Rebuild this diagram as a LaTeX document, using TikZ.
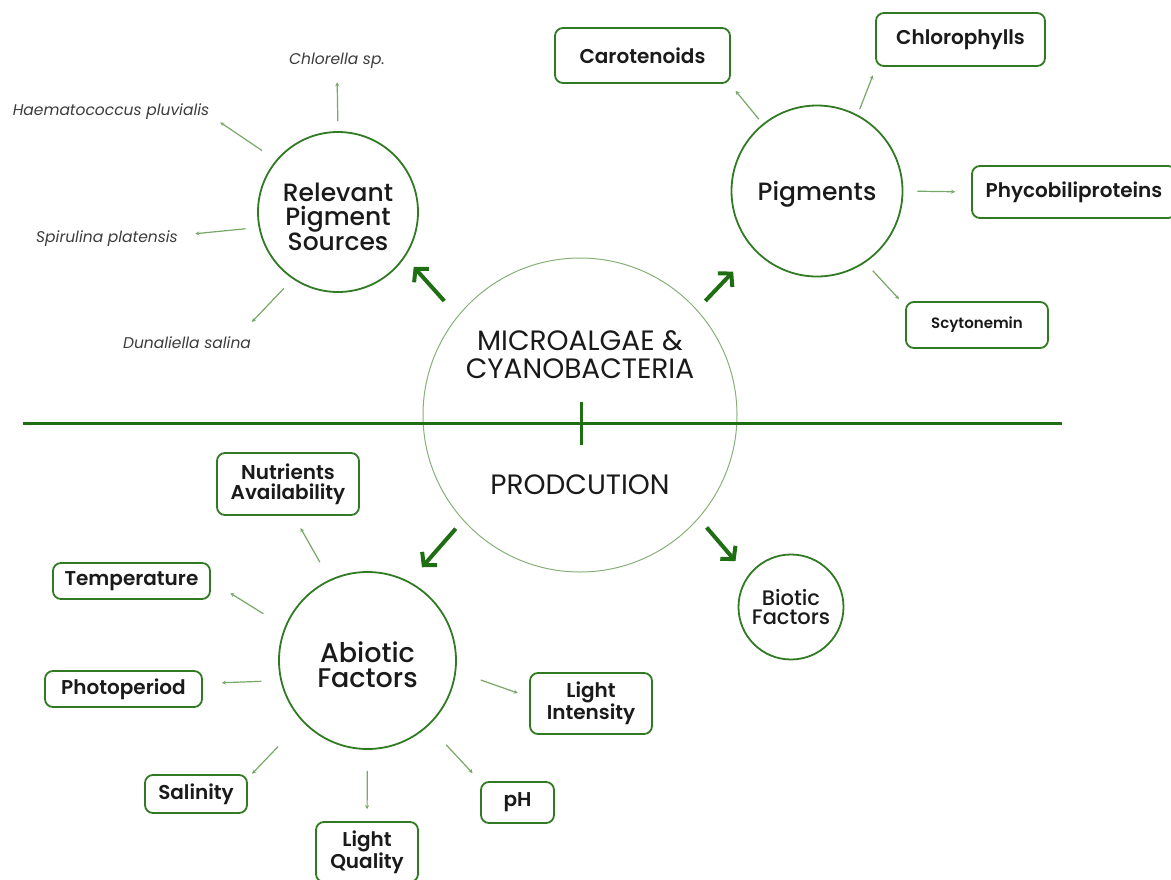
\documentclass[tikz,border=0pt]{standalone}
\usepackage{fontspec}
\setmainfont{Poppins}
\newfontfamily\ringfont{Poppins Medium}
\newfontfamily\tagfont{Poppins SemiBold}
\usetikzlibrary{arrows.meta}
\definecolor{darkgreen}{HTML}{1F6E14}
\definecolor{ringgreen}{HTML}{2F7A22}
\definecolor{palegreen}{HTML}{86B077}
\definecolor{thingreen}{HTML}{78A868}
\definecolor{ink}{HTML}{1A1A1A}
\tikzset{
  ring/.style={draw=ringgreen, line width=1.8pt, circle, align=center, text=ink, inner sep=0pt},
  tag/.style={draw=ringgreen, line width=1.8pt, rounded corners=8pt, align=center, text=ink, inner sep=0pt, font=\tagfont\fontsize{20}{20}\selectfont},
  species/.style={text=ink!85, font=\itshape\fontsize{15.5}{15.5}\selectfont},
  bigarrow/.style={darkgreen, line width=4pt, -{Straight Barb[length=9pt,width=20pt]}},
  smallarrow/.style={thingreen, line width=1.2pt, -{Stealth[length=4pt,width=4pt]}}
}
\begin{document}
\begin{tikzpicture}[x=1pt,y=-1pt]
        \useasboundingbox (0,0) rectangle (1171,879);
        \draw (580,415) node (M) [circle, draw=palegreen, line width=1pt, minimum size=314pt] {};
        \draw (580,355) node (MT) [text=ink, align=center, font=\fontsize{28}{28}\selectfont] {MICROALGAE \&\\CYANOBACTERIA};
        \draw (580,485) node (MB) [text=ink, font=\fontsize{28}{28}\selectfont] {PRODCUTION};
        \draw[darkgreen, line width=3pt] (23,423) -- (1062,423);
        \draw[darkgreen, line width=3pt] (581,402) -- (581,445);

        \draw (338,212) node (S) [ring, minimum size=160pt, text height=77pt, text depth=0pt, font=\ringfont\fontsize{25}{23.5}\selectfont] {Relevant\\Pigment\\Sources};
        \draw (817,191) node (P) [ring, minimum size=171pt, text height=26pt, font=\ringfont\fontsize{25}{25}\selectfont] {Pigments};
        \draw (367.5,660.5) node (A) [ring, minimum size=177pt, text height=53pt, text depth=0pt, font=\ringfont\fontsize{27}{25}\selectfont] {Abiotic\\Factors};
        \draw (791,607) node (B) [ring, minimum size=105pt, font=\ringfont\fontsize{21}{19}\selectfont] {Biotic\\Factors};

        \draw (642.5,55.5) node (Car) [tag, minimum width=175pt, minimum height=55pt] {Carotenoids};
        \draw (960.5,39.5) node (Chl) [tag, minimum width=169pt, minimum height=53pt] {Chlorophylls};
        \draw (1074,192) node (Phy) [tag, minimum width=204pt, minimum height=52pt] {Phycobiliproteins};
        \draw (977,325) node (Scy) [tag, minimum width=142pt, minimum height=46pt, font=\tagfont\fontsize{15}{15}\selectfont] {Scytonemin};

        \draw (288,484) node (Nut) [tag, minimum width=142pt, minimum height=62pt] {Nutrients\\Availability};
        \draw (131.5,581) node (Tem) [tag, minimum width=157pt, minimum height=36pt] {Temperature};
        \draw (123.5,689) node (Pho) [tag, minimum width=157pt, minimum height=36pt] {Photoperiod};
        \draw (196,794) node (Sal) [tag, minimum width=102pt, minimum height=38pt] {Salinity};
        \draw (367,852) node (LQ) [tag, minimum width=102pt, minimum height=60pt] {Light\\Quality};
        \draw (517.5,802.5) node (pH) [tag, minimum width=73pt, minimum height=41pt] {pH};
        \draw (591,703.5) node (LI) [tag, minimum width=122pt, minimum height=61pt] {Light\\Intensity};

        \draw (337,61) node (Chlo) [species] {Chlorella sp.};
        \draw (111,112) node (Hae) [species] {Haematococcus pluvialis};
        \draw (107,239) node (Spi) [species] {Spirulina platensis};
        \draw (187,343) node (Dun) [species] {Dunaliella salina};

        \draw[bigarrow, shorten <=20pt, shorten >=13pt] (M.141) -- (S.-34);
        \draw[bigarrow, shorten <=12pt, shorten >=30pt] (M.42) -- (P.223);
        \draw[bigarrow, shorten <=11pt, shorten >=19pt] (M.222) -- (A.62);
        \draw[bigarrow, shorten <=12pt, shorten >=19pt] (M.-41) -- (B.144);

        \draw[smallarrow, shorten <=6pt, shorten >=9pt] (P.129) -- (Car.-18);
        \draw[smallarrow, shorten <=6pt, shorten >=9pt] (P.62) -- (Chl.198);
        \draw[smallarrow, shorten <=14pt, shorten >=16pt] (P.east) -- (Phy.west);
        \draw[smallarrow, shorten <=11pt, shorten >=9pt] (P.-56) -- (Scy.165);

        \draw[smallarrow, shorten <=10pt, shorten >=10pt] (S.north) -- (Chlo.south);
        \draw[smallarrow, shorten <=17pt, shorten >=9pt] (S.140) -- (Hae.-3);
        \draw[smallarrow, shorten <=13pt, shorten >=14pt] (S.191) -- (Spi.3);
        \draw[smallarrow, shorten <=13pt, shorten >=16pt] (S.236) -- (Dun.10);

        \draw[smallarrow, shorten <=20pt, shorten >=14pt] (A.115) -- (Nut.-80);
        \draw[smallarrow, shorten <=25pt, shorten >=23pt] (A.158) -- (Tem.east);
        \draw[smallarrow, shorten <=19pt, shorten >=19pt] (A.193) -- (Pho.4);
        \draw[smallarrow, shorten <=35pt, shorten >=6pt] (A.223) -- (Sal.17);
        \draw[smallarrow, shorten <=21pt, shorten >=12pt] (A.south) -- (LQ.north);
        \draw[smallarrow, shorten <=26pt, shorten >=11pt] (A.-47) -- (pH.north west);
        \draw[smallarrow, shorten <=26pt, shorten >=12pt] (A.-7) -- (LI.174);
\end{tikzpicture}
\end{document}
